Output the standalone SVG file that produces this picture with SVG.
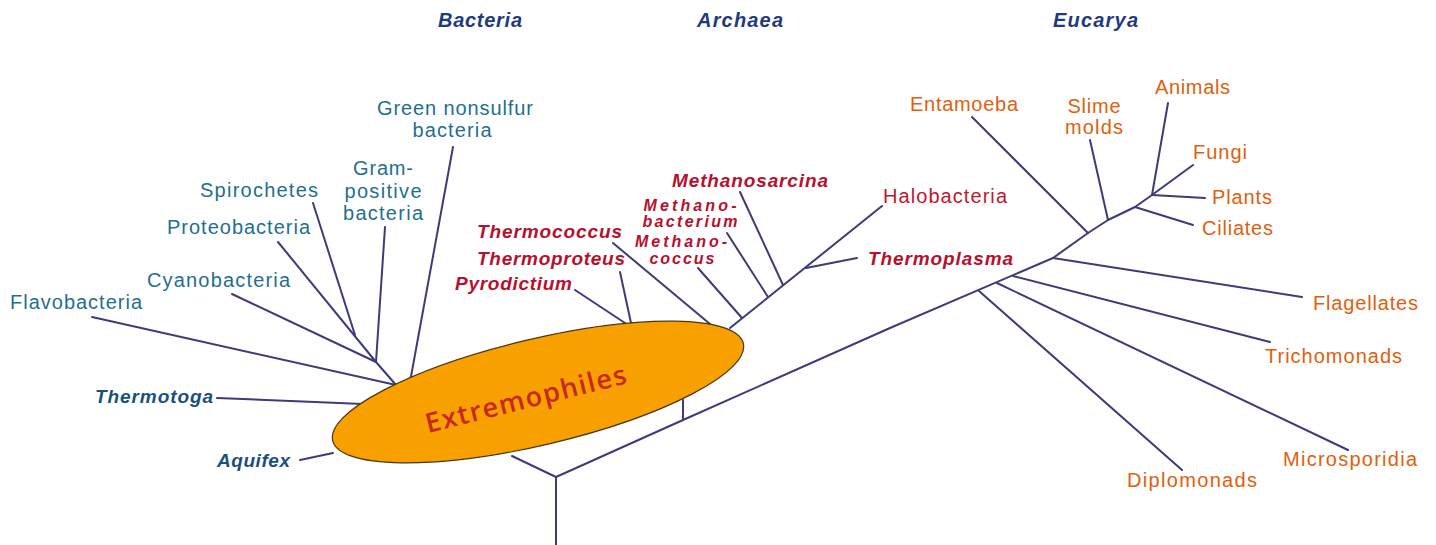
<svg xmlns="http://www.w3.org/2000/svg" width="1436" height="545" viewBox="0 0 1436 545">
<style>
.ln{stroke:#3d3b7a;stroke-width:2;fill:none;stroke-linecap:round;stroke-linejoin:round}
text{font-family:"Liberation Sans",Arial,sans-serif;font-size:20px}
.bac{fill:#1f6f90}
.bacb{fill:#1b4f7c;font-weight:bold;font-style:italic;font-size:19px}
.arc{fill:#b8102c;font-weight:bold;font-style:italic;font-size:19px}
.arcs{fill:#b8102c;font-weight:bold;font-style:italic;font-size:16px}
.arcr{fill:#c0182e}
.euk{fill:#e0600c}
.dom{fill:#1f3a7e;font-weight:bold;font-style:italic;font-size:20px}
.mid{text-anchor:middle}
</style>
<rect width="1436" height="545" fill="#ffffff"/>

<g id="connectors">
  <polyline class="ln" points="556,545 556,477 512,456"/>
  <polyline class="ln" points="556,477 683,420 890,328 1053,258 1088,233 1108,220 1135,207 1152,195 1193,165"/>
  <line class="ln" x1="683" y1="420" x2="683" y2="400"/>
  <line class="ln" x1="979" y1="291" x2="1182" y2="470"/>
  <line class="ln" x1="997" y1="283" x2="1348" y2="450"/>
  <line class="ln" x1="1013" y1="276" x2="1270" y2="342"/>
  <line class="ln" x1="1053" y1="258" x2="1302" y2="297"/>
  <line class="ln" x1="1088" y1="233" x2="972" y2="117"/>
  <line class="ln" x1="1108" y1="220" x2="1090" y2="140"/>
  <line class="ln" x1="1135" y1="207" x2="1193" y2="225"/>
  <line class="ln" x1="1152" y1="195" x2="1205" y2="198"/>
  <line class="ln" x1="1152" y1="195" x2="1168" y2="103"/>
  <line class="ln" x1="730" y1="328" x2="882" y2="206"/>
  <line class="ln" x1="742" y1="318" x2="698" y2="268"/>
  <line class="ln" x1="768" y1="297" x2="727" y2="233"/>
  <line class="ln" x1="783" y1="285" x2="740" y2="192"/>
  <line class="ln" x1="806" y1="268" x2="857" y2="258"/>
  <line class="ln" x1="613" y1="243" x2="710" y2="324"/>
  <line class="ln" x1="620" y1="272" x2="631" y2="323"/>
  <line class="ln" x1="575" y1="290" x2="625" y2="323"/>
  <line class="ln" x1="453" y1="147" x2="410" y2="382"/>
  <line class="ln" x1="385" y1="227" x2="376" y2="362"/>
  <line class="ln" x1="313" y1="203" x2="355" y2="335"/>
  <line class="ln" x1="278" y1="242" x2="376" y2="362"/>
  <line class="ln" x1="232" y1="294" x2="376" y2="362"/>
  <line class="ln" x1="376" y1="362" x2="396" y2="385"/>
  <line class="ln" x1="92" y1="317" x2="396" y2="385"/>
  <line class="ln" x1="217" y1="398" x2="363" y2="404"/>
  <line class="ln" x1="300" y1="460" x2="333" y2="453"/>
</g>

<g id="extremophiles">
  <ellipse cx="538" cy="392" rx="211" ry="53" transform="rotate(-13.3 538 392)" fill="#f7a000" stroke="#4a3410" stroke-width="1.2"/>
  <text x="528" y="408" text-anchor="middle" transform="rotate(-14 528 408)" textLength="206" style="font-family:'Open Sans','Liberation Sans',sans-serif;font-size:27px;font-weight:600;fill:#c8281e">Extremophiles</text>
</g>

<g id="domain-bacteria"><text class="dom" x="438" y="27" textLength="84">Bacteria</text></g>
<g id="domain-archaea"><text class="dom" x="697" y="27" textLength="86">Archaea</text></g>
<g id="domain-eucarya"><text class="dom" x="1053" y="27" textLength="85">Eucarya</text></g>

<g id="green-nonsulfur"><text class="bac mid" x="455" y="115" textLength="156">Green nonsulfur</text><text class="bac mid" x="452" y="137" textLength="79">bacteria</text></g>
<g id="gram-positive"><text class="bac mid" x="383" y="175" textLength="60">Gram-</text><text class="bac mid" x="383" y="198" textLength="77">positive</text><text class="bac mid" x="383" y="220" textLength="80">bacteria</text></g>
<g id="spirochetes"><text class="bac" x="200" y="197" textLength="118">Spirochetes</text></g>
<g id="proteobacteria"><text class="bac" x="167" y="234" textLength="143">Proteobacteria</text></g>
<g id="cyanobacteria"><text class="bac" x="147" y="287" textLength="143">Cyanobacteria</text></g>
<g id="flavobacteria"><text class="bac" x="10" y="309" textLength="132">Flavobacteria</text></g>
<g id="thermotoga"><text class="bacb" x="95" y="403" textLength="118">Thermotoga</text></g>
<g id="aquifex"><text class="bacb" x="217" y="467" textLength="73">Aquifex</text></g>

<g id="methanosarcina"><text class="arc" x="672" y="187" textLength="156">Methanosarcina</text></g>
<g id="methanobacterium"><text class="arcs mid" x="690" y="211" textLength="93">Methano-</text><text class="arcs mid" x="690" y="227" textLength="95">bacterium</text></g>
<g id="methanococcus"><text class="arcs mid" x="681" y="247" textLength="92">Methano-</text><text class="arcs mid" x="682" y="264" textLength="65">coccus</text></g>
<g id="thermococcus"><text class="arc" x="477" y="238" textLength="145">Thermococcus</text></g>
<g id="thermoproteus"><text class="arc" x="477" y="265" textLength="148">Thermoproteus</text></g>
<g id="pyrodictium"><text class="arc" x="455" y="290" textLength="117">Pyrodictium</text></g>
<g id="halobacteria"><text class="arcr" x="883" y="203" textLength="124">Halobacteria</text></g>
<g id="thermoplasma"><text class="arc" x="868" y="265" textLength="145">Thermoplasma</text></g>

<g id="entamoeba"><text class="euk" x="910" y="111" textLength="108">Entamoeba</text></g>
<g id="slime-molds"><text class="euk mid" x="1094" y="113" textLength="53">Slime</text><text class="euk mid" x="1094" y="134" textLength="58">molds</text></g>
<g id="animals"><text class="euk" x="1155" y="94" textLength="75">Animals</text></g>
<g id="fungi"><text class="euk" x="1193" y="159" textLength="54">Fungi</text></g>
<g id="plants"><text class="euk" x="1212" y="204" textLength="60">Plants</text></g>
<g id="ciliates"><text class="euk" x="1202" y="235" textLength="71">Ciliates</text></g>
<g id="flagellates"><text class="euk" x="1313" y="310" textLength="105">Flagellates</text></g>
<g id="trichomonads"><text class="euk" x="1265" y="363" textLength="137">Trichomonads</text></g>
<g id="microsporidia"><text class="euk" x="1283" y="466" textLength="134">Microsporidia</text></g>
<g id="diplomonads"><text class="euk" x="1127" y="487" textLength="130">Diplomonads</text></g>
</svg>
